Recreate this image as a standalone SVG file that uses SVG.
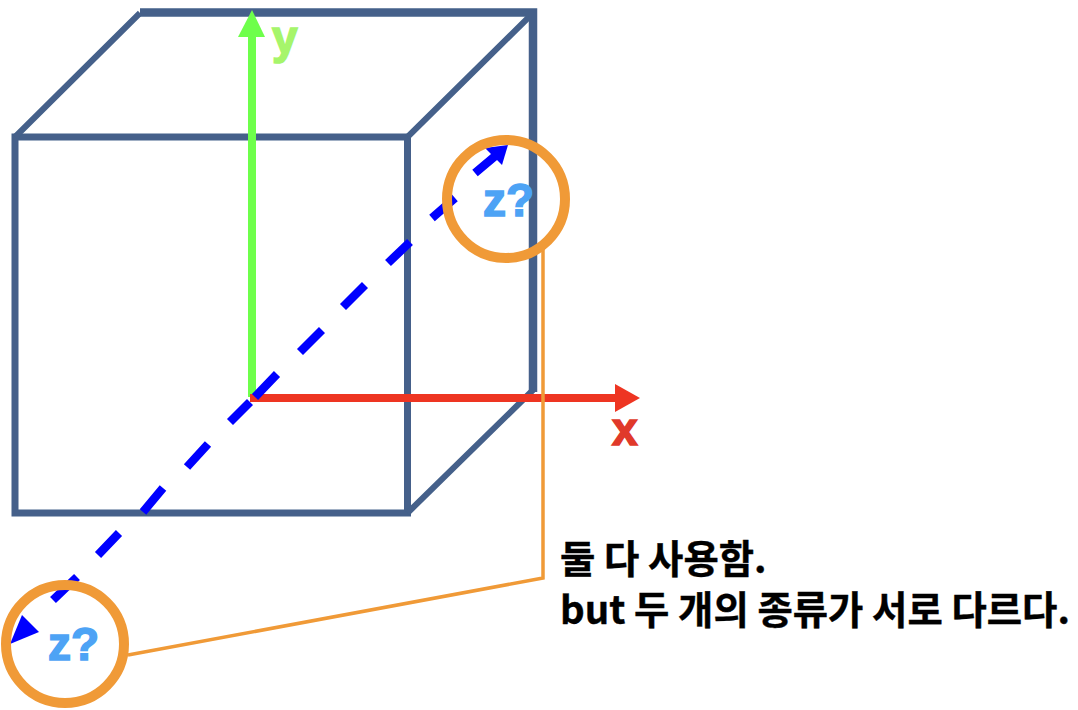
<svg xmlns="http://www.w3.org/2000/svg" width="1078" height="710" viewBox="0 0 1078 710">
<style>
text{font-family:"Liberation Sans","Noto Sans CJK KR",sans-serif;font-weight:700}
.lab{font-size:46px;stroke-width:1.6}
.cube{fill:none;stroke:#44618a;stroke-linejoin:miter}
.ring{fill:none;stroke:#f09a37;stroke-width:10}
.kr{font-family:"Noto Sans CJK KR","Liberation Sans",sans-serif;font-size:38.4px;fill:#000;stroke:#000;stroke-width:.4}
</style>
<defs><filter id="soft" x="-5%" y="-5%" width="110%" height="110%"><feGaussianBlur stdDeviation="0.7"/></filter></defs>
<rect width="1078" height="710" fill="#fff"/>
<g id="cube" filter="url(#soft)">
<rect class="cube" stroke-width="7" x="15" y="137" width="392.5" height="376"/>
<path class="cube" stroke-width="6" d="M15 137L140 13M407.500 137L533 13M533 390L407.500 513"/>
<path class="cube" stroke-width="8.500" d="M140 12.500H533V392"/>
</g>
<g id="connectors">
<g filter="url(#soft)">
<path d="M252 397V34" fill="none" stroke="#6eff4c" stroke-width="8"/>
<path d="M252 10L265 37H238Z" fill="#6eff4c"/>
<path d="M250 398H618" fill="none" stroke="#ee3524" stroke-width="8"/>
<path d="M640 398L615 384V412Z" fill="#ee3524"/>
<path d="M53 600L77 577M98 555L119 533M143 512L163 488M187 467L208 444M230 422L250 402M255 397L277 374M300 352L322 330M343 307L365 285M388 263L410 242M432 218L455 198M475 173L500 152" fill="none" stroke="#0000ff" stroke-width="8.500" stroke-linecap="butt"/>
<path d="M508 145L485 148L502 165Z" fill="#0000ff"/>
<path d="M10 644L22 615L39 632Z" fill="#0000ff"/>
</g>
<path d="M543 245V578L128 655" fill="none" stroke="#f09a37" stroke-width="3.500"/>
</g>
<g id="ring-top"><circle class="ring" cx="506" cy="199" r="59"/><text class="lab" x="483" y="216" fill="#4da3f5" stroke="#4da3f5">z?</text></g>
<g id="ring-bottom"><circle class="ring" cx="65" cy="644" r="59"/><text class="lab" x="48" y="660" fill="#4da3f5" stroke="#4da3f5">z?</text></g>
<g id="label-y"><text class="lab" x="272" y="53" fill="#a6f56b" stroke="#a6f56b">y</text></g>
<g id="label-x"><text class="lab" x="612" y="445" fill="#e0392a" stroke="#e0392a">x</text></g>
<g id="note">
<text class="kr" x="560" y="573">둘 다 사용함.</text>
<text class="kr" x="560" y="624">but 두 개의 종류가 서로 다르다.</text>
</g>
</svg>
